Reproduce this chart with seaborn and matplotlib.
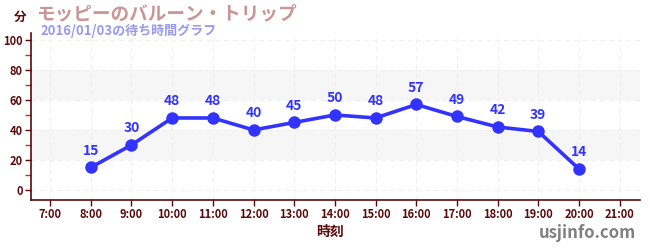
import matplotlib
matplotlib.use("Agg")
import matplotlib.pyplot as plt
import seaborn as sns
import pandas as pd
from matplotlib.ticker import MultipleLocator

hours = [8, 9, 10, 11, 12, 13, 14, 15, 16, 17, 18, 19, 20]
waits = [15, 30, 48, 48, 40, 45, 50, 48, 57, 49, 42, 39, 14]
xtick_hours = list(range(7, 22))
xtick_labels = [f"{h}:00" for h in xtick_hours]
yticks = [0, 20, 40, 60, 80, 100]

title = "モッピーのバルーン・トリップ"
subtitle = "2016/01/03の待ち時間グラフ"
ylabel = "分"
xlabel = "時刻"
watermark = "usjinfo.com"

sns.set_theme(style="white")
plt.rcParams['font.family'] = ['Noto Sans CJK JP', 'DejaVu Sans']

dark = "#5a0a0a"
blue = "#3333ff"

fig = plt.figure(figsize=(6.5, 2.5), dpi=100)
ax = fig.add_axes([31/650, 1-200/250, (640-31)/650, (200-32.5)/250])

df = pd.DataFrame({"hour": hours, "wait": waits})
for lo, hi in [(20, 40), (60, 80)]:
    ax.axhspan(lo, hi, color="#f6f6f6", zorder=0, lw=0)
sns.lineplot(data=df, x="hour", y="wait", ax=ax, color=blue, lw=2.6,
             marker="o", markersize=9, markeredgewidth=0, zorder=3)
for h, w in zip(hours, waits):
    ax.annotate(str(w), (h, w), xytext=(0, 7), textcoords="offset points",
                ha="center", va="bottom", color=blue, fontsize=10, fontweight="bold")

ax.set_xlim(6.53, 21.5)
ax.set_ylim(-6.7, 105)
ax.set_xticks(xtick_hours)
ax.set_xticklabels(xtick_labels)
ax.set_yticks(yticks)
ax.yaxis.set_minor_locator(MultipleLocator(10))
ax.grid(True, which="major", color="#efefef", ls=(0, (5, 4)), lw=0.7)
ax.set_axisbelow(True)
for s in ["top", "right"]:
    ax.spines[s].set_visible(False)
for s in ["left", "bottom"]:
    ax.spines[s].set_color(dark)
    ax.spines[s].set_linewidth(1.2)
ax.tick_params(axis="both", which="major", colors=dark, labelsize=8, length=4, width=1,
               direction="out", bottom=True, left=True, pad=2)
ax.tick_params(axis="y", which="minor", colors="#dd2222", length=4, width=1, left=True)
for lbl in ax.get_xticklabels() + ax.get_yticklabels():
    lbl.set_fontweight("bold")
    lbl.set_color(dark)
ax.set_xlabel("")
ax.set_ylabel("")

fig.text(330/650, 1-232/250, xlabel, ha="center", va="center", fontsize=10,
         fontweight="bold", color=dark)
fig.text(20/650, 1-17/250, ylabel, ha="center", va="center", fontsize=9,
         fontweight="bold", color=dark)
fig.text(36/650, 1-14/250, title, ha="left", va="center", fontsize=13.4,
         fontweight="bold", color="#c99595")
fig.text(41/650, 1-31/250, subtitle, ha="left", va="center", fontsize=9.4,
         fontweight="bold", color="#9999ee")
fig.text(636/650, 1-233/250, watermark, ha="right", va="center", fontsize=12,
         fontweight="bold", color="#808080")

fig.savefig("out.png", dpi=100)
